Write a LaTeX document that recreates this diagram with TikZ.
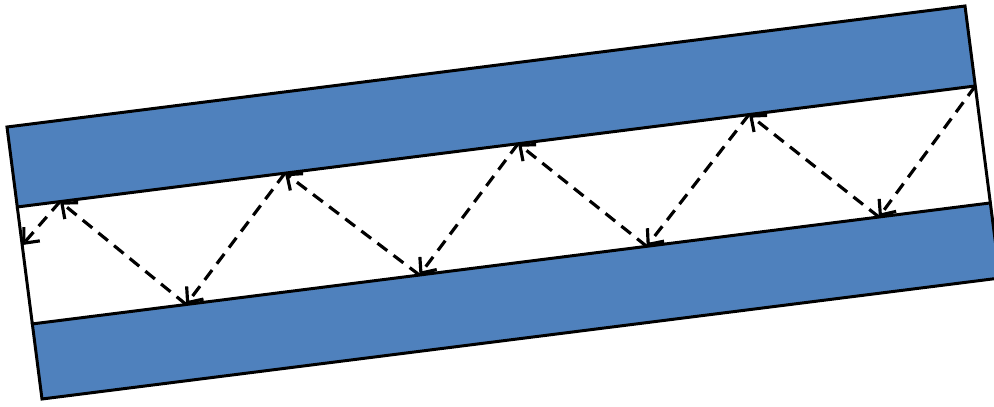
\documentclass[tikz,border=0pt]{standalone}
\usetikzlibrary{calc,arrows.meta}
\definecolor{slabblue}{HTML}{4F81BD}
\begin{document}
\begin{tikzpicture}[x=0.02cm,y=-0.02cm,
  slab/.style={fill=slabblue,draw=black,line width=1.7pt,line join=miter},
  edge/.style={draw=black,line width=1.7pt},
  ray/.style={draw=black,line width=1.8pt,dash pattern=on 7pt off 4.5pt,-{Straight Barb[length=7pt,width=12pt]}}]
\useasboundingbox (0,0) rectangle (994,406);
\clip (0,0) rectangle (994,406);
\coordinate (TL) at (7,127);
\coordinate (TR) at (965,6);
\coordinate (BL) at (42,399);
\coordinate (BR) at (1000,278);
\coordinate (UL) at ($(TL)!0.294!(BL)$);
\coordinate (UR) at ($(TR)!0.294!(BR)$);
\coordinate (LL) at ($(TL)!0.724!(BL)$);
\coordinate (LR) at ($(TR)!0.724!(BR)$);
\fill[white] (TL) -- (TR) -- (BR) -- (BL) -- cycle;
\path[slab] (TL) -- (TR) -- (UR) -- (UL) -- cycle;
\path[slab] (LL) -- (LR) -- (BR) -- (BL) -- cycle;
\path[edge] (UL) -- (LL);
\path[edge] (UR) -- (LR);
% bounce points
\coordinate (P0) at (UR);
\coordinate (P1) at ($(LL)!0.8837!(LR)$);
\coordinate (P2) at ($(UL)!0.7638!(UR)$);
\coordinate (P3) at ($(LL)!0.6413!(LR)$);
\coordinate (P4) at ($(UL)!0.5227!(UR)$);
\coordinate (P5) at ($(LL)!0.4041!(LR)$);
\coordinate (P6) at ($(UL)!0.2794!(UR)$);
\coordinate (P7) at ($(LL)!0.1606!(LR)$);
\coordinate (P8) at ($(UL)!0.0446!(UR)$);
\coordinate (P9) at ($(TL)!0.434!(BL)$);
\draw[ray] (P0) -- (P1);
\draw[ray] (P1) -- (P2);
\draw[ray] (P2) -- (P3);
\draw[ray] (P3) -- (P4);
\draw[ray] (P4) -- (P5);
\draw[ray] (P5) -- (P6);
\draw[ray] (P6) -- (P7);
\draw[ray] (P7) -- (P8);
\draw[ray] (P8) -- (P9);
\end{tikzpicture}
\end{document}
